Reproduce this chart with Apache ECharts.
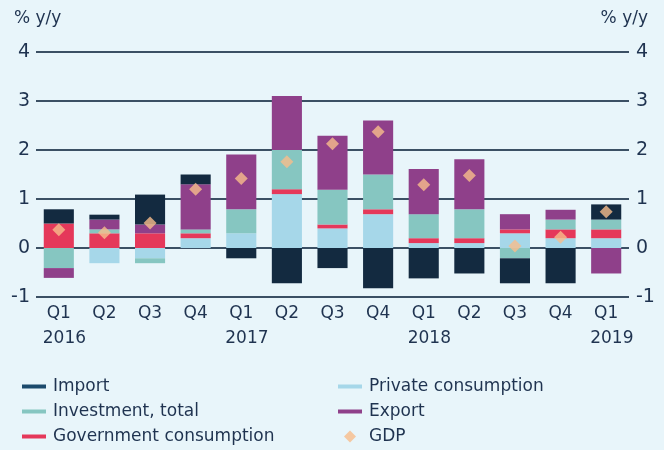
<!DOCTYPE html>
<html>
<head>
<meta charset="utf-8">
<script src="https://cdn.jsdelivr.net/npm/echarts@6/dist/echarts.min.js"></script>
<style>
  html, body { margin: 0; padding: 0; background: #e8f5fa; }
  #chart { width: 664px; height: 450px; }
</style>
</head>
<body>
<div id="chart"></div>
<script>
// quarters 2016 Q1 .. 2019 Q1
var quarters = ["Q1", "Q2", "Q3", "Q4", "Q1", "Q2", "Q3", "Q4", "Q1", "Q2", "Q3", "Q4", "Q1"];
var years = ["2016", "", "", "", "2017", "", "", "", "2018", "", "", "", "2019"];

var privateCons = [0, -0.31, -0.21, 0.2, 0.3, 1.1, 0.4, 0.69, 0.1, 0.1, 0.3, 0.2, 0.2];
var govCons = [0.5, 0.3, 0.3, 0.1, 0, 0.1, 0.08, 0.1, 0.1, 0.1, 0.08, 0.18, 0.18];
var investment = [-0.41, 0.08, -0.1, 0.08, 0.49, 0.8, 0.71, 0.71, 0.49, 0.59, -0.21, 0.2, 0.2];
var exportVals = [-0.2, 0.2, 0.18, 0.92, 1.12, 1.1, 1.1, 1.1, 0.92, 1.02, 0.31, 0.2, -0.52];
var importVals = [0.29, 0.1, 0.61, 0.2, -0.21, -0.72, -0.41, -0.82, -0.62, -0.52, -0.51, -0.72, 0.31];
var gdp = [0.37, 0.31, 0.51, 1.2, 1.42, 1.76, 2.13, 2.37, 1.29, 1.48, 0.04, 0.22, 0.74];

var textColor = "#1f3350";
var font = "DejaVu Sans";
var lineIcon = "path://M0,4h24v4h-24z";
var diamondIcon = "path://M6,0L12,6L6,12L0,6Z";

var chart = echarts.init(document.getElementById("chart"));

function barSeries(name, data, color) {
  return {
    name: name,
    type: "bar",
    stack: "total",
    barWidth: "66%",
    data: data,
    itemStyle: { color: color },
    emphasis: { disabled: true }
  };
}

var yAxisBase = {
  type: "value",
  min: -1,
  max: 4,
  interval: 1,
  axisLine: { show: false },
  axisTick: { show: false },
  splitLine: { lineStyle: { color: "#3b5064", width: 2 } },
  axisLabel: { color: textColor, fontSize: 19, fontFamily: font }
};

chart.setOption({
  backgroundColor: "#e8f5fa",
  animation: false,
  textStyle: { fontFamily: font },
  grid: { left: 36, right: 35, top: 52, bottom: 153 },
  graphic: [
    { type: "text", left: 14, top: 10, style: { text: "% y/y", fill: textColor, fontSize: 17, fontFamily: font } },
    { type: "text", right: 16, top: 10, style: { text: "% y/y", fill: textColor, fontSize: 17, fontFamily: font } }
  ],
  xAxis: [
    {
      type: "category",
      data: quarters,
      axisLine: { show: false },
      axisTick: { show: false },
      axisLabel: { interval: 0, color: textColor, fontSize: 17, fontFamily: font, margin: 8 }
    },
    {
      type: "category",
      data: years,
      position: "bottom",
      offset: 25,
      axisLine: { show: false },
      axisTick: { show: false },
      axisLabel: { interval: 0, color: textColor, fontSize: 17, fontFamily: font, margin: 8, align: "left", padding: [0, 0, 0, -16] }
    }
  ],
  yAxis: [
    Object.assign({}, yAxisBase, { position: "left", axisLabel: Object.assign({}, yAxisBase.axisLabel, { margin: 6 }) }),
    Object.assign({}, yAxisBase, { position: "right", splitLine: { show: false }, axisLabel: Object.assign({}, yAxisBase.axisLabel, { margin: 7 }) })
  ],
  legend: [
    {
      orient: "vertical",
      left: 17,
      top: 373,
      itemWidth: 24,
      itemHeight: 12,
      itemGap: 8,
      selectedMode: false,
      textStyle: { color: textColor, fontSize: 17, fontFamily: font, padding: [0, 0, 0, 2] },
      data: [
        { name: "Import", icon: lineIcon, itemStyle: { color: "#1b4a6c" } },
        { name: "Investment, total", icon: lineIcon },
        { name: "Government consumption", icon: lineIcon }
      ]
    },
    {
      orient: "vertical",
      left: 333,
      top: 373,
      itemWidth: 24,
      itemHeight: 12,
      itemGap: 8,
      selectedMode: false,
      textStyle: { color: textColor, fontSize: 17, fontFamily: font, padding: [0, 0, 0, 2] },
      data: [
        { name: "Private consumption", icon: lineIcon },
        { name: "Export", icon: lineIcon },
        { name: "GDP", icon: diamondIcon }
      ]
    }
  ],
  series: [
    barSeries("Private consumption", privateCons, "#a6d7e9"),
    barSeries("Government consumption", govCons, "#e5385a"),
    barSeries("Investment, total", investment, "#86c6c1"),
    barSeries("Export", exportVals, "#8f408a"),
    barSeries("Import", importVals, "#132a40"),
    {
      name: "GDP",
      type: "scatter",
      symbol: "diamond",
      symbolSize: 13,
      data: gdp,
      z: 5,
      itemStyle: { color: "#f7bd8b" }
    }
  ]
});
</script>
</body>
</html>
